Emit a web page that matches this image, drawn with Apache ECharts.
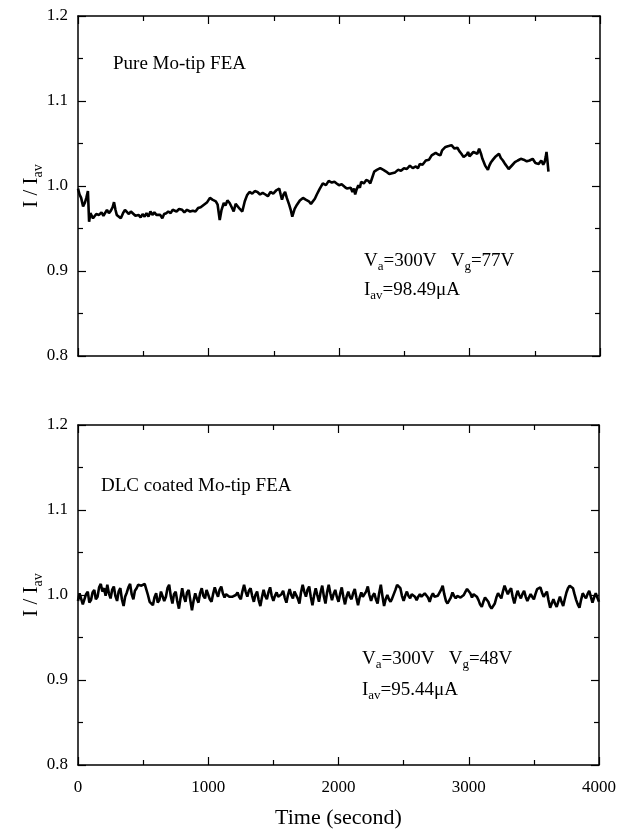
<!DOCTYPE html>
<html>
<head>
<meta charset="utf-8">
<script src="https://cdn.jsdelivr.net/npm/echarts@6/dist/echarts.min.js"></script>
<style>
  html, body { margin: 0; padding: 0; background: #fff; }
  #chart { width: 619px; height: 831px; }
</style>
</head>
<body>
<div id="chart"></div>
<script>
// [time (s), I / Iav] (pure Mo tips)
const pureData = [
  [0,0.997],[12,0.990],[24,0.986],[39,0.976],[52,0.980],[64,0.986],[76,0.994],[85,0.958],[95,0.968],[106,0.970],
  [115,0.962],[124,0.960],[140,0.967],[161,0.966],[180,0.969],[195,0.965],[206,0.967],[222,0.972],[237,0.968],[252,0.971],
  [265,0.975],[276,0.981],[287,0.972],[297,0.966],[312,0.965],[328,0.962],[345,0.968],[360,0.972],[373,0.972],[390,0.967],
  [405,0.970],[419,0.968],[440,0.965],[464,0.966],[480,0.963],[495,0.967],[510,0.964],[525,0.968],[540,0.964],[555,0.970],
  [570,0.966],[585,0.969],[601,0.966],[615,0.964],[630,0.966],[646,0.962],[660,0.967],[676,0.968],[692,0.970],[710,0.968],
  [725,0.972],[737,0.972],[755,0.970],[775,0.973],[798,0.972],[815,0.969],[835,0.972],[859,0.970],[880,0.971],[900,0.970],
  [920,0.974],[940,0.975],[965,0.978],[990,0.981],[1011,0.986],[1030,0.984],[1056,0.982],[1070,0.978],[1086,0.960],[1100,0.972],
  [1117,0.980],[1130,0.977],[1145,0.983],[1162,0.980],[1178,0.975],[1193,0.970],[1208,0.979],[1223,0.978],[1240,0.973],[1259,0.970],
  [1278,0.982],[1295,0.989],[1314,0.993],[1335,0.991],[1355,0.994],[1375,0.993],[1395,0.990],[1415,0.992],[1436,0.990],[1455,0.988],
  [1475,0.993],[1496,0.991],[1520,0.995],[1542,0.997],[1553,0.990],[1563,0.984],[1575,0.990],[1587,0.993],[1600,0.986],[1618,0.978],
  [1630,0.972],[1642,0.964],[1660,0.973],[1678,0.978],[1700,0.983],[1724,0.986],[1745,0.984],[1769,0.982],[1785,0.979],[1800,0.981],
  [1815,0.985],[1830,0.990],[1850,0.996],[1876,1.003],[1900,1.001],[1921,1.006],[1945,1.004],[1965,1.005],[1982,1.003],[2000,1.001],
  [2020,1.002],[2043,0.999],[2060,0.997],[2073,0.995],[2090,0.998],[2103,0.993],[2115,0.997],[2124,0.990],[2135,0.996],[2148,1.001],
  [2160,0.998],[2170,1.005],[2190,1.003],[2209,1.007],[2225,1.006],[2240,1.003],[2255,1.010],[2270,1.017],[2290,1.019],[2316,1.021],
  [2340,1.019],[2361,1.017],[2385,1.014],[2407,1.015],[2430,1.016],[2452,1.019],[2475,1.018],[2498,1.021],[2520,1.020],[2543,1.024],
  [2565,1.021],[2589,1.023],[2605,1.021],[2619,1.026],[2640,1.025],[2665,1.030],[2690,1.031],[2710,1.036],[2725,1.035],[2741,1.039],
  [2760,1.037],[2777,1.036],[2790,1.042],[2805,1.040],[2816,1.046],[2840,1.047],[2862,1.048],[2885,1.044],[2907,1.045],[2922,1.041],
  [2938,1.038],[2955,1.034],[2968,1.032],[2980,1.037],[2989,1.040],[3000,1.035],[3014,1.036],[3030,1.040],[3044,1.042],[3060,1.038],
  [3074,1.044],[3088,1.038],[3099,1.032],[3110,1.028],[3120,1.024],[3131,1.022],[3141,1.019],[3152,1.024],[3165,1.028],[3180,1.031],
  [3196,1.034],[3210,1.032],[3226,1.038],[3240,1.033],[3256,1.030],[3272,1.026],[3287,1.023],[3300,1.020],[3311,1.021],[3330,1.025],
  [3348,1.028],[3370,1.030],[3393,1.032],[3415,1.031],[3439,1.029],[3460,1.030],[3484,1.032],[3505,1.027],[3530,1.026],[3550,1.030],
  [3565,1.025],[3575,1.028],[3584,1.034],[3590,1.040],[3597,1.030],[3605,1.017]
];

// [time (s), I / Iav] (DLC coated tips)
const dlcData = [
  [0,0.993],[12,1.002],[25,1.000],[37,0.989],[50,0.990],[62,1.001],[75,1.004],[87,0.991],[100,0.994],[112,1.003],
  [125,1.006],[137,0.995],[150,0.998],[162,1.009],[175,1.013],[187,1.004],[200,1.008],[212,0.999],[225,1.012],[237,1.002],
  [250,0.996],[262,1.006],[275,1.010],[287,0.999],[300,0.993],[312,1.004],[325,1.008],[337,0.995],[350,0.987],[362,0.998],
  [375,1.003],[387,1.009],[400,1.013],[412,1.001],[425,0.995],[437,1.005],[450,1.008],[462,1.012],[475,1.013],[487,1.011],
  [500,1.012],[512,1.013],[525,1.011],[537,1.000],[550,0.992],[562,0.990],[575,0.988],[587,0.997],[600,1.002],[612,0.991],
  [625,0.994],[637,1.004],[650,1.006],[662,0.993],[675,0.998],[687,1.008],[700,1.012],[712,0.999],[725,0.990],[737,1.001],
  [750,1.004],[762,0.993],[775,0.984],[787,0.996],[800,1.008],[812,0.998],[825,0.992],[837,1.003],[850,1.006],[862,0.994],
  [875,0.982],[887,0.993],[900,1.002],[912,0.996],[925,0.991],[937,1.002],[950,1.008],[962,0.999],[975,0.996],[987,1.006],
  [1000,1.004],[1012,0.995],[1025,0.992],[1037,1.001],[1050,1.009],[1062,1.003],[1075,0.998],[1087,1.006],[1100,1.010],[1112,1.002],
  [1125,0.997],[1137,1.001],[1150,1.002],[1162,0.998],[1175,0.996],[1187,0.998],[1200,0.997],[1212,1.000],[1225,1.003],[1237,0.998],
  [1250,0.995],[1262,1.004],[1275,1.012],[1287,1.004],[1300,0.998],[1312,1.005],[1325,1.008],[1337,0.999],[1350,0.992],[1362,1.000],
  [1375,1.004],[1387,0.994],[1400,0.987],[1412,0.997],[1425,1.006],[1437,0.999],[1450,0.995],[1462,1.003],[1475,1.009],[1487,0.999],
  [1500,0.993],[1512,0.999],[1525,1.003],[1537,0.998],[1550,0.996],[1562,1.001],[1575,1.005],[1587,0.997],[1600,0.991],[1612,1.000],
  [1625,1.007],[1637,1.000],[1650,0.996],[1662,1.004],[1675,1.002],[1687,0.996],[1700,0.990],[1712,1.003],[1725,1.012],[1737,1.004],
  [1750,0.998],[1762,1.006],[1775,1.010],[1787,0.998],[1800,0.988],[1812,0.999],[1825,1.008],[1837,1.000],[1850,0.992],[1862,1.003],
  [1875,1.011],[1887,0.999],[1900,0.990],[1912,1.003],[1925,1.012],[1937,1.002],[1950,0.994],[1962,1.001],[1975,1.006],[1987,0.998],
  [2000,0.992],[2012,1.001],[2025,1.009],[2037,0.998],[2050,0.989],[2062,0.998],[2075,1.004],[2087,0.998],[2100,0.995],[2112,1.002],
  [2125,1.007],[2137,0.997],[2150,0.988],[2162,0.997],[2175,1.003],[2187,0.998],[2200,0.996],[2212,1.004],[2225,1.010],[2237,1.000],
  [2250,0.993],[2262,0.999],[2275,1.002],[2287,0.995],[2300,0.990],[2312,1.002],[2325,1.012],[2337,0.999],[2350,0.987],[2362,0.995],
  [2375,1.000],[2387,0.995],[2400,0.992],[2412,0.996],[2425,0.998],[2437,1.006],[2450,1.012],[2462,1.011],[2475,1.008],[2487,0.999],
  [2500,0.993],[2512,0.999],[2525,1.004],[2537,0.999],[2550,0.996],[2562,1.001],[2575,1.003],[2587,0.998],[2600,0.994],[2612,0.998],
  [2625,1.001],[2637,0.998],[2650,0.997],[2662,1.002],[2675,1.004],[2687,0.997],[2700,0.992],[2712,0.998],[2725,1.002],[2737,0.998],
  [2750,0.996],[2762,0.999],[2775,1.000],[2787,1.006],[2800,1.011],[2812,1.001],[2825,0.993],[2837,0.990],[2850,0.988],[2862,0.997],
  [2875,1.003],[2887,0.999],[2900,0.996],[2912,0.999],[2925,1.000],[2937,0.997],[2950,0.995],[2962,1.000],[2975,1.004],[2987,1.007],
  [3000,1.009],[3012,1.002],[3025,0.997],[3037,1.001],[3050,1.003],[3062,0.998],[3075,0.994],[3087,0.989],[3100,0.986],[3112,0.992],
  [3125,0.997],[3137,0.995],[3150,0.992],[3162,0.987],[3175,0.984],[3187,0.986],[3200,0.990],[3212,0.997],[3225,1.002],[3237,0.999],
  [3250,0.996],[3262,1.004],[3275,1.011],[3287,1.006],[3300,1.001],[3312,1.005],[3325,1.008],[3337,0.998],[3350,0.990],[3362,0.998],
  [3375,1.005],[3387,1.000],[3400,0.996],[3412,1.001],[3425,1.005],[3437,0.998],[3450,0.993],[3462,0.997],[3475,1.001],[3487,0.998],
  [3500,0.995],[3512,1.001],[3525,1.007],[3537,1.008],[3550,1.009],[3562,1.003],[3575,0.998],[3587,1.001],[3600,1.004],[3612,0.994],
  [3625,0.985],[3637,0.990],[3650,0.995],[3662,0.990],[3675,0.986],[3687,0.992],[3700,0.998],[3712,0.992],[3725,0.987],[3737,0.995],
  [3750,1.003],[3762,1.008],[3775,1.011],[3787,1.010],[3800,1.008],[3812,1.001],[3825,0.994],[3837,0.989],[3850,0.985],[3862,0.994],
  [3875,1.002],[3887,0.999],[3900,0.996],[3912,1.001],[3925,1.005],[3937,0.998],[3950,0.991],[3962,0.997],[3975,1.002],[3987,0.997],
  [4000,0.992]
];

const panelLabels = ['Pure Mo-tip FEA', 'DLC coated Mo-tip FEA'];
const voltageLabels = ['{n|V}{s|a}{n|=300V   V}{s|g}{n|=77V}', '{n|V}{s|a}{n|=300V   V}{s|g}{n|=48V}'];
const currentLabels = ['{n|I}{s|av}{n|=98.49μA}', '{n|I}{s|av}{n|=95.44μA}'];

const serif = '"Liberation Serif", "DejaVu Serif", serif';

const chart = echarts.init(document.getElementById('chart'), null, { renderer: 'canvas' });

const tickStyle = { color: '#000', width: 1.2 };
const lineStyle = { color: '#000', width: 1.5 };

function xAxisFor(gridIndex, position, withLabels) {
    return {
        type: 'value',
        gridIndex: gridIndex,
        position: position,
        min: 0,
        max: 4000,
        interval: 1000,
        name: withLabels ? 'Time (second)' : '',
        nameLocation: 'middle',
        nameGap: 42,
        nameMoveOverlap: false,
        nameTextStyle: { fontFamily: serif, fontSize: 22, color: '#000' },
        axisLine: { show: true, onZero: false, lineStyle: lineStyle },
        axisTick: { show: true, inside: true, length: 8, lineStyle: tickStyle },
        minorTick: { show: true, splitNumber: 2, length: 5, lineStyle: tickStyle },
        axisLabel: {
            show: withLabels, margin: 14, fontFamily: serif, fontSize: 17, color: '#000',
            formatter: v => String(v)
        },
        splitLine: { show: false }
    };
}

function yAxisFor(gridIndex, position, withLabels) {
    return {
        type: 'value',
        gridIndex: gridIndex,
        position: position,
        min: 0.8,
        max: 1.2,
        interval: 0.1,
        name: withLabels ? 'I / I{s|av}' : '',
        nameLocation: 'middle',
        nameRotate: 90,
        nameGap: 33,
        nameMoveOverlap: false,
        nameTextStyle: {
            fontFamily: serif, fontSize: 21, color: '#000', lineHeight: 28,
            rich: { s: { fontFamily: serif, fontSize: 14, lineHeight: 14, verticalAlign: 'bottom', color: '#000' } }
        },
        axisLine: { show: true, onZero: false, lineStyle: lineStyle },
        axisTick: { show: true, inside: true, length: 8, lineStyle: tickStyle },
        minorTick: { show: true, splitNumber: 2, length: 5, lineStyle: tickStyle },
        axisLabel: {
            show: withLabels, margin: 10, fontFamily: serif, fontSize: 17, color: '#000',
            formatter: v => v.toFixed(1)
        },
        splitLine: { show: false }
    };
}

const richText = {
    n: { fontFamily: serif, fontSize: 19, lineHeight: 24, color: '#000' },
    s: { fontFamily: serif, fontSize: 13, lineHeight: 13, verticalAlign: 'bottom', color: '#000' }
};

function textAt(x, y, text, rich) {
    return {
        type: 'text',
        x: x,
        y: y,
        silent: true,
        style: {
            text: text,
            fill: '#000',
            font: '19px ' + serif,
            verticalAlign: 'middle',
            rich: rich
        }
    };
}

chart.setOption({
    animation: false,
    backgroundColor: '#fff',
    grid: [
        { left: 78, top: 16, width: 522, height: 340 },
        { left: 78, top: 425, width: 522, height: 340 }
    ],
    xAxis: [
        xAxisFor(0, 'bottom', false),
        xAxisFor(0, 'top', false),
        xAxisFor(1, 'bottom', true),
        xAxisFor(1, 'top', false)
    ],
    yAxis: [
        yAxisFor(0, 'left', true),
        yAxisFor(0, 'right', false),
        yAxisFor(1, 'left', true),
        yAxisFor(1, 'right', false)
    ],
    series: [
        {
            type: 'line',
            xAxisIndex: 0,
            yAxisIndex: 0,
            data: pureData,
            showSymbol: false,
            lineStyle: { color: '#000', width: 2.6 }
        },
        {
            type: 'line',
            xAxisIndex: 2,
            yAxisIndex: 2,
            data: dlcData,
            showSymbol: false,
            lineStyle: { color: '#000', width: 2.6 }
        }
    ],
    graphic: [
        textAt(113, 64, panelLabels[0]),
        textAt(364, 261, voltageLabels[0], richText),
        textAt(364, 290, currentLabels[0], richText),
        textAt(101, 486, panelLabels[1]),
        textAt(362, 659, voltageLabels[1], richText),
        textAt(362, 690, currentLabels[1], richText)
    ]
});
</script>
</body>
</html>
